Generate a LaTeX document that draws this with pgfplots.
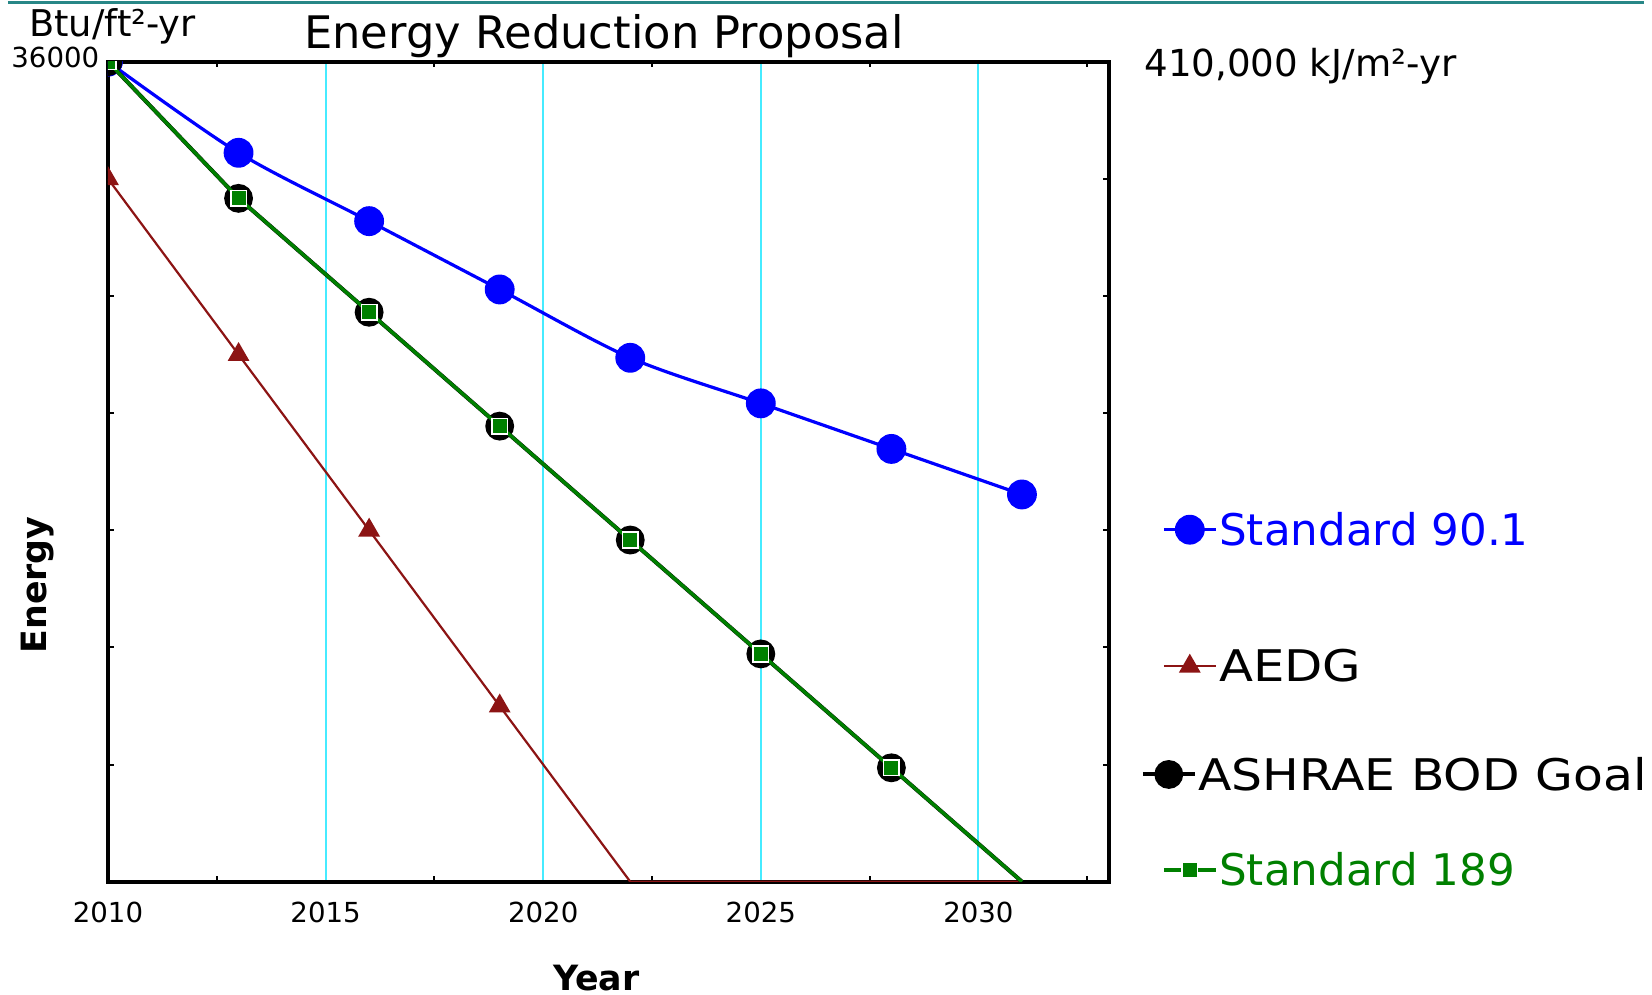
\documentclass[border=0pt]{standalone}
\usepackage{fontspec}
\setmainfont{DejaVu Sans}
\usepackage{graphicx}
\usepackage{pgfplots}
\pgfplotsset{compat=1.18}

\definecolor{stdblue}{RGB}{0,0,255}
\definecolor{aedgred}{RGB}{140,20,20}
\definecolor{stdgreen}{RGB}{0,128,0}
\definecolor{gridcyan}{RGB}{70,235,255}
\definecolor{rulecol}{RGB}{40,135,135}

\pgfplotsset{
    shortlegend/.style={legend image code/.code={\draw[mark repeat=2, mark phase=2, ##1, xshift=#1] plot coordinates {(0bp,3.9bp) (6.5bp,3.9bp) (13bp,3.9bp)};}},
}

\begin{document}
\begin{tikzpicture}
\begin{axis}[
    name=ax,
    scale only axis,
    width=250.25bp, height=205bp,
    xmin=2010, xmax=2033,
    ymin=0, ymax=36000,
    axis line style={black, line width=1bp},
    clip marker paths=true,
    scaled y ticks=false,
    xtick={2010,2015,2020,2025,2030},
    xticklabels={2010,2015,2020,2025,2030},
    minor xtick={2012.5,2017.5,2022.5,2027.5,2032.5},
    ytick={0,5142.857,10285.714,15428.571,20571.429,25714.286,30857.143,36000},
    yticklabels={,,,,,,,36000},
    tick align=inside,
    major tick length=1.4bp,
    minor tick length=1.3bp,
    tick style={black, line width=0.5bp},
    major x tick style={draw=none},
    xmajorgrids,
    major grid style={gridcyan, line width=0.5bp},
    xticklabel style={font=\fontsize{6.9bp}{8bp}\selectfont, inner sep=0pt, anchor=north, yshift=-5bp},
    yticklabel style={font=\fontsize{6.9bp}{8bp}\selectfont, inner sep=0pt, anchor=east, xshift=-2bp, yshift=1bp},
    title={Energy Reduction Proposal},
    title style={font=\fontsize{11.2bp}{13bp}\selectfont, at={(axis description cs:0.4955,1.01585)}, anchor=base, yshift=-6pt, inner sep=0pt},
    xlabel={Year},
    xlabel style={font=\bfseries\fontsize{8.7bp}{10bp}\selectfont, at={(axis description cs:0.4878,-0.1322)}, anchor=base, inner sep=0pt},
    ylabel={Energy},
    ylabel style={font=\bfseries\fontsize{8.7bp}{10bp}\selectfont, at={(axis description cs:-0.0619,0.362)}, anchor=base, inner sep=0pt},
    shortlegend=0bp,
    legend style={at={(axis description cs:1,1)}, anchor=north west, xshift=7.95bp, yshift=-110.9bp,
        draw=none, fill=none, inner sep=0pt, outer sep=0pt, row sep=11.75bp, column sep=0.45bp,
        font=\fontsize{10.9bp}{12bp}\selectfont,
        nodes={inner sep=0pt, anchor=base west}},
]

% Standard 90.1
\addplot[stdblue, line width=0.8bp, smooth, tension=0.5, mark=*, mark size=3.33bp,
    mark options={solid, fill=stdblue, draw=stdblue}] coordinates {
    (2010,36000) (2013,32000) (2016,29000) (2019,26000)
    (2022,23000) (2025,21000) (2028,19000) (2031,17000)
};
\addlegendentry{\rule{0pt}{10bp}\textcolor{stdblue}{Standard 90.1}}

% AEDG
\addplot[aedgred, line width=0.55bp, forget plot] coordinates {
    (2019,7710) (2022,0) (2031,0)
};
\addplot[aedgred, line width=0.55bp, mark=triangle*, mark size=2.6bp,
    mark options={solid, fill=aedgred, draw=aedgred}] coordinates {
    (2010,30860) (2013,23140) (2016,15430) (2019,7710)
};
\addlegendentry{\rule{0pt}{20.9bp}\scalebox{1.14}[1]{AEDG}}

% ASHRAE BOD Goal
\addplot[black, line width=1bp, mark=*, mark size=3.1bp,
    mark options={solid, fill=black, draw=black}, shortlegend=-5.25bp] coordinates {
    (2010,36000) (2013,30000) (2016,25000) (2019,20000)
    (2022,15000) (2025,10000) (2028,5000)
};
\addlegendentry{\rule{0pt}{13.8bp}\hspace*{-5.25bp}\scalebox{1.12}[1]{ASHRAE BOD Goal}}
\addplot[black, line width=1bp, forget plot] coordinates {
    (2028,5000) (2031,0)
};

% Standard 189
\addplot[stdgreen, line width=0.85bp, forget plot] coordinates {
    (2028,5000) (2031,0)
};
\addplot[stdgreen, line width=0.85bp, mark=square*, mark size=1.95bp,
    mark options={solid, fill=stdgreen, draw=white, line width=0.4bp}] coordinates {
    (2010,36000) (2013,30000) (2016,25000) (2019,20000)
    (2022,15000) (2025,10000) (2028,5000)
};
\addlegendentry{\rule{0pt}{10.6bp}\textcolor{stdgreen}{Standard 189}}

\end{axis}

\node[anchor=base west, inner sep=0pt, font=\fontsize{9.2bp}{11bp}\selectfont]
    at ([xshift=-19.875bp, yshift=6.25bp]ax.north west) {Btu/ft²-yr};
\node[anchor=base west, inner sep=0pt, font=\fontsize{9.3bp}{11bp}\selectfont]
    at ([xshift=8.65bp, yshift=-3.6bp]ax.north east) {410,000 kJ/m²-yr};
\draw[rulecol, line width=0.75bp]
    ([xshift=-25bp, yshift=14.7bp]ax.north west) -- ([xshift=133.75bp, yshift=14.7bp]ax.north east);

\pgfresetboundingbox
\useasboundingbox ([xshift=-27bp, yshift=-28.325bp]ax.south west)
    rectangle ([xshift=135.75bp, yshift=15.425bp]ax.north east);
\end{tikzpicture}
\end{document}
